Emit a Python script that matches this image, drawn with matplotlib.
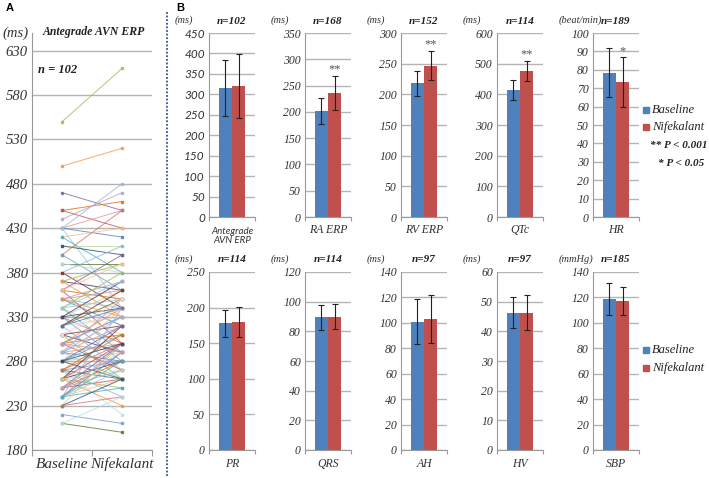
import numpy as np
import matplotlib
matplotlib.use("Agg")
import matplotlib.pyplot as plt
from matplotlib.patches import Rectangle
from matplotlib.lines import Line2D

# ---- panel A: paired antegrade AVN ERP (ms) ----
avn_base = [550, 500, 470, 450, 450, 440, 430, 430, 430, 430, 420, 420, 410, 410,
            400, 400, 390, 390, 380, 380, 380, 370, 370, 370, 360, 360, 360, 350,
            350, 350, 350, 340, 340, 340, 330, 330, 330, 330, 320, 320, 320, 310,
            310, 310, 310, 300, 300, 300, 300, 290, 290, 290, 290, 290, 280, 280,
            280, 280, 270, 270, 270, 270, 270, 260, 260, 260, 260, 260, 250, 250,
            250, 250, 240, 240, 240, 240, 240, 240, 230, 230, 230, 220, 210, 210,
            300, 310, 320, 330, 340, 350, 280, 270, 260, 250, 290, 300, 320, 340,
            360, 240, 260, 280]
avn_nife = [610, 520, 450, 460, 430, 470, 480, 450, 420, 340, 430, 380, 410, 400,
            450, 360, 390, 380, 410, 350, 340, 360, 390, 330, 400, 350, 300, 370,
            340, 360, 320, 350, 310, 290, 360, 340, 300, 280, 350, 330, 270, 340,
            320, 290, 260, 340, 330, 310, 270, 350, 320, 300, 280, 260, 340, 310,
            290, 260, 300, 280, 260, 220, 240, 290, 320, 280, 250, 230, 300, 280,
            260, 270, 340, 300, 290, 270, 260, 250, 300, 260, 240, 210, 200, 240,
            330, 350, 360, 370, 380, 330, 320, 310, 300, 290, 330, 290, 340, 370,
            390, 280, 270, 300]

# ---- panel B: mean, SD for each parameter ----
names = ["Antegrade\nAVN ERP", "RA ERP", "RV ERP", "QTc", "HR",
         "PR", "QRS", "AH", "HV", "SBP"]
n_labels = ["n=102", "n=168", "n=152", "n=114", "n=189",
            "n=114", "n=114", "n=97", "n=97", "n=185"]
units = ["(ms)", "(ms)", "(ms)", "(ms)", "(beat/min)",
         "(ms)", "(ms)", "(ms)", "(ms)", "(mmHg)"]
base_mean = [315, 202, 218, 413, 78.5, 178, 89.5, 101, 46.3, 118.5]
base_sd = [68, 25, 20, 33, 13.5, 19, 8.5, 18, 5.2, 12.5]
nife_mean = [321, 236, 247, 476, 73.5, 180, 90, 103, 46.3, 117]
nife_sd = [78, 33, 24, 34, 13.5, 21, 8.5, 19, 5.8, 11]
stars = ["", "**", "**", "**", "*", "", "", "", "", ""]
ymax = [450, 350, 300, 600, 100, 250, 120, 140, 60, 140]
ystep = [50, 50, 50, 100, 10, 50, 20, 20, 10, 20]

W, H = 709, 478
BLUE = "#4F81BD"
RED = "#C0504D"
GRID = "#B4B4B4"
SERIF = "Liberation Serif"
SANS = "Lato"

fig = plt.figure(figsize=(W / 100, H / 100), dpi=100)


def rect(x0, x1, ytop, ybot):
    return [x0 / W, (H - ybot) / H, (x1 - x0) / W, (ybot - ytop) / H]


def ftxt(x, y, s, **kw):
    fig.text(x / W, (H - y) / H, s, **kw)


# panel A
axA = fig.add_axes(rect(32, 152, 33, 450))
pal = ["#9BBB59", "#F79646", "#8064A2", "#E46C0A", "#C0504D", "#B3A2C7",
       "#9BB7D9", "#D99694", "#4F81BD", "#93CDDD", "#FAC090", "#4BACC6",
       "#C3D69B", "#2C4D75", "#CD7371", "#729ACA", "#5F7530", "#B7DEE8",
       "#8EB4E3", "#F2DCDB", "#772C2A", "#4D3B62"]
for i, (b, nv) in enumerate(zip(avn_base, avn_nife)):
    c = pal[i % len(pal)]
    axA.plot([0.5, 1.5], [b, nv], color=c, lw=0.7, alpha=0.8,
             marker="s", ms=1.8, mec=c, mfc=c)
axA.set_xlim(0, 2)
axA.set_ylim(180, 650)
axA.set_yticks(np.arange(180, 631, 50))
axA.yaxis.grid(True, color=GRID, lw=1.0)
axA.set_axisbelow(True)
axA.set_xticks([0, 1, 2])
axA.set_xticklabels([])
axA.tick_params(axis="x", length=4, color="#999999")
axA.tick_params(axis="y", length=0, pad=3)
for lab in axA.get_yticklabels():
    lab.set_fontfamily(SERIF)
    lab.set_fontstyle("italic")
    lab.set_fontsize(10.5)
    lab.set_color("#333333")
for s in ["top", "right"]:
    axA.spines[s].set_visible(False)
for s in ["left", "bottom"]:
    axA.spines[s].set_color("#999999")
ftxt(94, 32, "Antegrade AVN ERP", family=SERIF, style="italic", weight="bold",
     fontsize=8.5, ha="center", va="center", color="#222222")
ftxt(38, 70, "n = 102", family=SERIF, style="italic", weight="bold",
     fontsize=9, ha="left", va="center", color="#222222")
ftxt(2, 33, "(ms)", family=SERIF, style="italic", fontsize=10.5,
     ha="left", va="center", color="#333333")
ftxt(62, 464, "Baseline", family=SERIF, style="italic", fontsize=11,
     ha="center", va="center", color="#333333")
ftxt(122, 464, "Nifekalant", family=SERIF, style="italic", fontsize=11,
     ha="center", va="center", color="#333333")
ftxt(6, 8, "A", family="Liberation Sans", weight="bold", fontsize=8,
     ha="left", va="center")
ftxt(176, 8, "B", family="Liberation Sans", weight="bold", fontsize=8,
     ha="left", va="center")

# divider
fig.add_artist(Line2D([167 / W, 167 / W], [(H - 12) / H, (H - 476) / H],
                      color="#2F5597", lw=1.3, ls=(0, (1, 1))))

# panel B
xs = [209, 305, 401, 497, 593]
rows = [(33, 217, 230), (272, 450, 464)]
for k in range(10):
    r, c = divmod(k, 5)
    ytop, ybot, ylab = rows[r]
    x0 = xs[c]
    ax = fig.add_axes(rect(x0, x0 + 46, ytop, ybot))
    off, bw = 0.145, 0.29
    ax.bar([0.5 - off], [base_mean[k]], bw, color=BLUE, zorder=2)
    ax.bar([0.5 + off], [nife_mean[k]], bw, color=RED, zorder=2)
    ax.errorbar([0.5 - off, 0.5 + off], [base_mean[k], nife_mean[k]],
                yerr=[base_sd[k], nife_sd[k]], fmt="none", ecolor="#222222",
                elinewidth=0.8, capsize=2, capthick=0.8, zorder=3)
    ax.set_xlim(0, 1)
    ax.set_ylim(0, ymax[k])
    ax.set_yticks(np.arange(0, ymax[k] + 0.1, ystep[k]))
    ax.yaxis.grid(True, color=GRID, lw=1.0, zorder=0)
    ax.set_axisbelow(True)
    ax.set_xticks([0, 1])
    ax.set_xticklabels([])
    ax.tick_params(axis="x", length=3, color="#999999")
    ax.tick_params(axis="y", length=0, pad=3)
    for s in ["top", "right"]:
        ax.spines[s].set_visible(False)
    for s in ["left", "bottom"]:
        ax.spines[s].set_color("#999999")
    fam = SANS if k == 0 else SERIF
    for lab in ax.get_yticklabels():
        lab.set_fontfamily(fam)
        lab.set_fontstyle("italic")
        lab.set_fontsize(8.5)
        lab.set_color("#333333")
    if k == 0:
        ftxt(x0 + 23, ylab + 6, names[k], family=SANS, style="italic",
             fontsize=7, ha="center", va="center", color="#333333",
             linespacing=1.1)
    else:
        ftxt(x0 + 23, ylab, names[k], family=SERIF, style="italic",
             fontsize=8.5, ha="center", va="center", color="#333333")
    ftxt(x0 + 23, ytop - 12, n_labels[k], family=SERIF, style="italic",
         weight="bold", fontsize=8, ha="center", va="center", color="#222222")
    ftxt(x0 - 34, ytop - 13, units[k], family=SERIF, style="italic",
         fontsize=7.5, ha="left", va="center", color="#333333")
    if stars[k]:
        ax.annotate(stars[k], (0.5 + off, nife_mean[k] + nife_sd[k]),
                    xytext=(0, 0), textcoords="offset points",
                    ha="center", va="bottom", fontsize=9, color="#555555",
                    family=SERIF)

# legends
for ly in [(110, 127), (350, 368)]:
    for y, col, lab in [(ly[0], BLUE, "Baseline"), (ly[1], RED, "Nifekalant")]:
        fig.add_artist(Rectangle(((643) / W, (H - y - 3) / H), 6 / W, 6 / H,
                                 color=col, transform=fig.transFigure))
        ftxt(652, y, lab, family=SERIF, style="italic", fontsize=9,
             ha="left", va="center", color="#222222")
ftxt(650, 146, "** P < 0.001", family=SERIF, style="italic", weight="bold",
     fontsize=8, ha="left", va="center", color="#222222")
ftxt(658, 163, "* P < 0.05", family=SERIF, style="italic", weight="bold",
     fontsize=8, ha="left", va="center", color="#222222")

fig.savefig("out.png", dpi=100)
